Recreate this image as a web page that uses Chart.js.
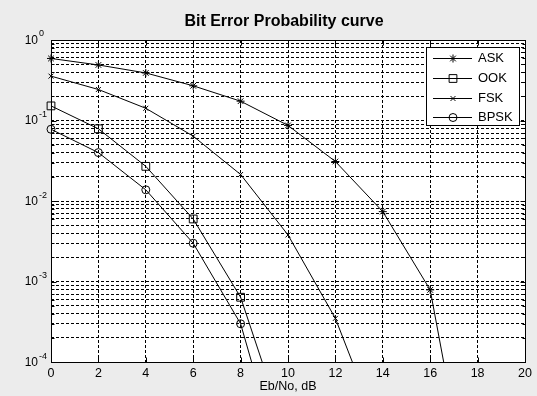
<!DOCTYPE html>
<html>
<head>
<meta charset="utf-8">
<title>Bit Error Probability curve</title>
<script src="https://cdn.jsdelivr.net/npm/chart.js@4.4.1/dist/chart.umd.min.js"></script>
<style>
  html, body { margin: 0; padding: 0; background: #ececec; }
  #wrap { width: 537px; height: 396px; }
</style>
</head>
<body>
<div id="wrap"><canvas id="berChart" width="537" height="396"></canvas></div>
<script>
// Eb/No in dB, one marker every 2 dB; the last value of each curve lies below 1e-4 (clipped)
const ebno = [0, 2, 4, 6, 8, 10, 12, 14, 16, 18];
const askBer = [0.59, 0.49, 0.39, 0.27, 0.174, 0.087, 0.031, 0.0074, 0.00079, 5.6e-7];
const ookBer = [0.152, 0.079, 0.027, 0.006, 0.00064, 1.1e-5];
const fskBer = [0.356, 0.243, 0.142, 0.064, 0.0214, 0.0038, 0.00035, 1.07e-5];
const bpskBer = [0.078, 0.040, 0.0138, 0.003, 0.0003, 2.7e-6];

const seriesLabels = ['ASK', 'OOK', 'FSK', 'BPSK'];
const yDecades = [-4, -3, -2, -1, 0];
const xTickStep = 2;

const FONT = "'Liberation Sans', Arial, Helvetica, sans-serif";

// marker styles, MATLAB-like: * [] x o
const markers = [
  { pointStyle: 'star', radius: 4 },
  { pointStyle: 'rect', radius: 5.5 },
  { pointStyle: 'crossRot', radius: 3.5 },
  { pointStyle: 'circle', radius: 4 }
];

const seriesValues = [askBer, ookBer, fskBer, bpskBer];

const datasets = seriesValues.map((vals, i) => ({
  label: seriesLabels[i],
  data: vals.map((v, j) => ({ x: ebno[j], y: v })),
  borderColor: '#000',
  borderWidth: 1,
  tension: 0,
  pointStyle: markers[i].pointStyle,
  pointRadius: markers[i].radius,
  pointHoverRadius: markers[i].radius,
  pointBorderColor: '#000',
  pointBackgroundColor: 'rgba(0,0,0,0)',
  pointBorderWidth: 1,
  clip: { left: 8, top: 8, right: 0, bottom: 0 }
}));

// grid ticks 1..9 x 10^n, like the MATLAB log axis
const yGridValues = [];
yDecades.forEach(e => {
  if (e === 0) { yGridValues.push(1); return; }
  for (let m = 1; m <= 9; m++) yGridValues.push(+(m * Math.pow(10, e)).toPrecision(3));
});

const matlabLook = {
  id: 'matlabLook',
  beforeDraw(chart) {
    const { ctx, chartArea: a } = chart;
    ctx.save();
    ctx.fillStyle = '#ececec';
    ctx.fillRect(0, 0, chart.width, chart.height);
    ctx.fillStyle = '#fff';
    ctx.fillRect(a.left, a.top, a.right - a.left, a.bottom - a.top);
    ctx.restore();
  },
  beforeDatasetsDraw(chart) {
    const { ctx, chartArea: a, scales } = chart;
    const x1 = Math.floor(a.left) + 0.5, x2 = Math.floor(a.right) + 0.5;
    const y1 = Math.floor(a.top) + 0.5, y2 = Math.floor(a.bottom) + 0.5;
    ctx.save();
    ctx.strokeStyle = '#000';
    ctx.lineWidth = 1;
    ctx.strokeRect(x1, y1, x2 - x1, y2 - y1);
    ctx.beginPath();
    // inward tick marks on all four sides
    scales.x.ticks.forEach(t => {
      const px = Math.round(scales.x.getPixelForValue(t.value)) + 0.5;
      ctx.moveTo(px, y2); ctx.lineTo(px, y2 - 5);
      ctx.moveTo(px, y1); ctx.lineTo(px, y1 + 5);
    });
    yGridValues.forEach(v => {
      const py = Math.round(scales.y.getPixelForValue(v)) + 0.5;
      const isDecade = Math.abs(Math.log10(v) - Math.round(Math.log10(v))) < 1e-9;
      const len = isDecade ? 5 : 3;
      ctx.moveTo(x1, py); ctx.lineTo(x1 + len, py);
      ctx.moveTo(x2, py); ctx.lineTo(x2 - len, py);
    });
    ctx.stroke();
    ctx.restore();
  },
  afterDatasetsDraw(chart) {
    const { ctx, scales } = chart;
    ctx.save();
    // y tick labels as 10 with a raised exponent
    ctx.fillStyle = '#000';
    ctx.textBaseline = 'middle';
    yDecades.forEach(e => {
      const py = scales.y.getPixelForValue(Math.pow(10, e));
      ctx.font = '12px ' + FONT;
      ctx.textAlign = 'right';
      ctx.fillText('10', 38, py + 0.5);
      ctx.font = '9px ' + FONT;
      ctx.textAlign = 'left';
      ctx.fillText(String(e), 39, py - 6);
    });

    // legend box
    const bx = 426.5, by = 47.5, bw = 93, bh = 78;
    ctx.fillStyle = '#fff';
    ctx.fillRect(bx, by, bw, bh);
    ctx.strokeStyle = '#000';
    ctx.lineWidth = 1;
    ctx.strokeRect(bx, by, bw, bh);
    chart.data.datasets.forEach((ds, i) => {
      const ry = Math.round(58 + i * 19.8) + 0.5;
      ctx.beginPath();
      ctx.moveTo(433, ry);
      ctx.lineTo(472, ry);
      ctx.stroke();
      ctx.fillStyle = 'rgba(0,0,0,0)';
      Chart.helpers.drawPoint(ctx, {
        pointStyle: ds.pointStyle, radius: ds.pointRadius, borderWidth: 1, rotation: 0
      }, 453, ry);
      ctx.fillStyle = '#000';
      ctx.font = '13px ' + FONT;
      ctx.textAlign = 'left';
      ctx.textBaseline = 'middle';
      ctx.fillText(ds.label, 478, ry);
    });
    ctx.restore();
  }
};

const gridStyle = { color: '#000', lineWidth: 1, drawTicks: false };
const borderStyle = { display: false, dash: [3, 2] };

new Chart(document.getElementById('berChart'), {
  type: 'line',
  data: { datasets },
  options: {
    responsive: false,
    animation: false,
    devicePixelRatio: 1,
    layout: { padding: { left: 43, right: 12, top: 0, bottom: 3.3 } },
    plugins: {
      legend: { display: false },
      tooltip: { enabled: false },
      title: {
        display: true,
        text: 'Bit Error Probability curve',
        color: '#000',
        font: { family: FONT, size: 16, weight: 'bold' },
        padding: { top: 12, bottom: 8.8 }
      }
    },
    scales: {
      x: {
        type: 'linear',
        min: 0,
        max: 20,
        grid: gridStyle,
        border: borderStyle,
        ticks: {
          stepSize: xTickStep,
          autoSkip: false,
          color: '#000',
          padding: 3.5,
          font: { family: FONT, size: 12.5 }
        },
        title: {
          display: true,
          text: 'Eb/No, dB',
          color: '#000',
          font: { family: FONT, size: 12.5, lineHeight: 1 },
          padding: { top: -4, bottom: 0 }
        }
      },
      y: {
        type: 'logarithmic',
        min: 1e-4,
        max: 1,
        grid: gridStyle,
        border: borderStyle,
        ticks: { display: false },
        afterBuildTicks(scale) {
          scale.ticks = yGridValues.map(v => ({ value: v }));
        },
        afterFit(scale) {
          scale.width = 8;
        }
      }
    }
  },
  plugins: [matlabLook]
});
</script>
</body>
</html>
